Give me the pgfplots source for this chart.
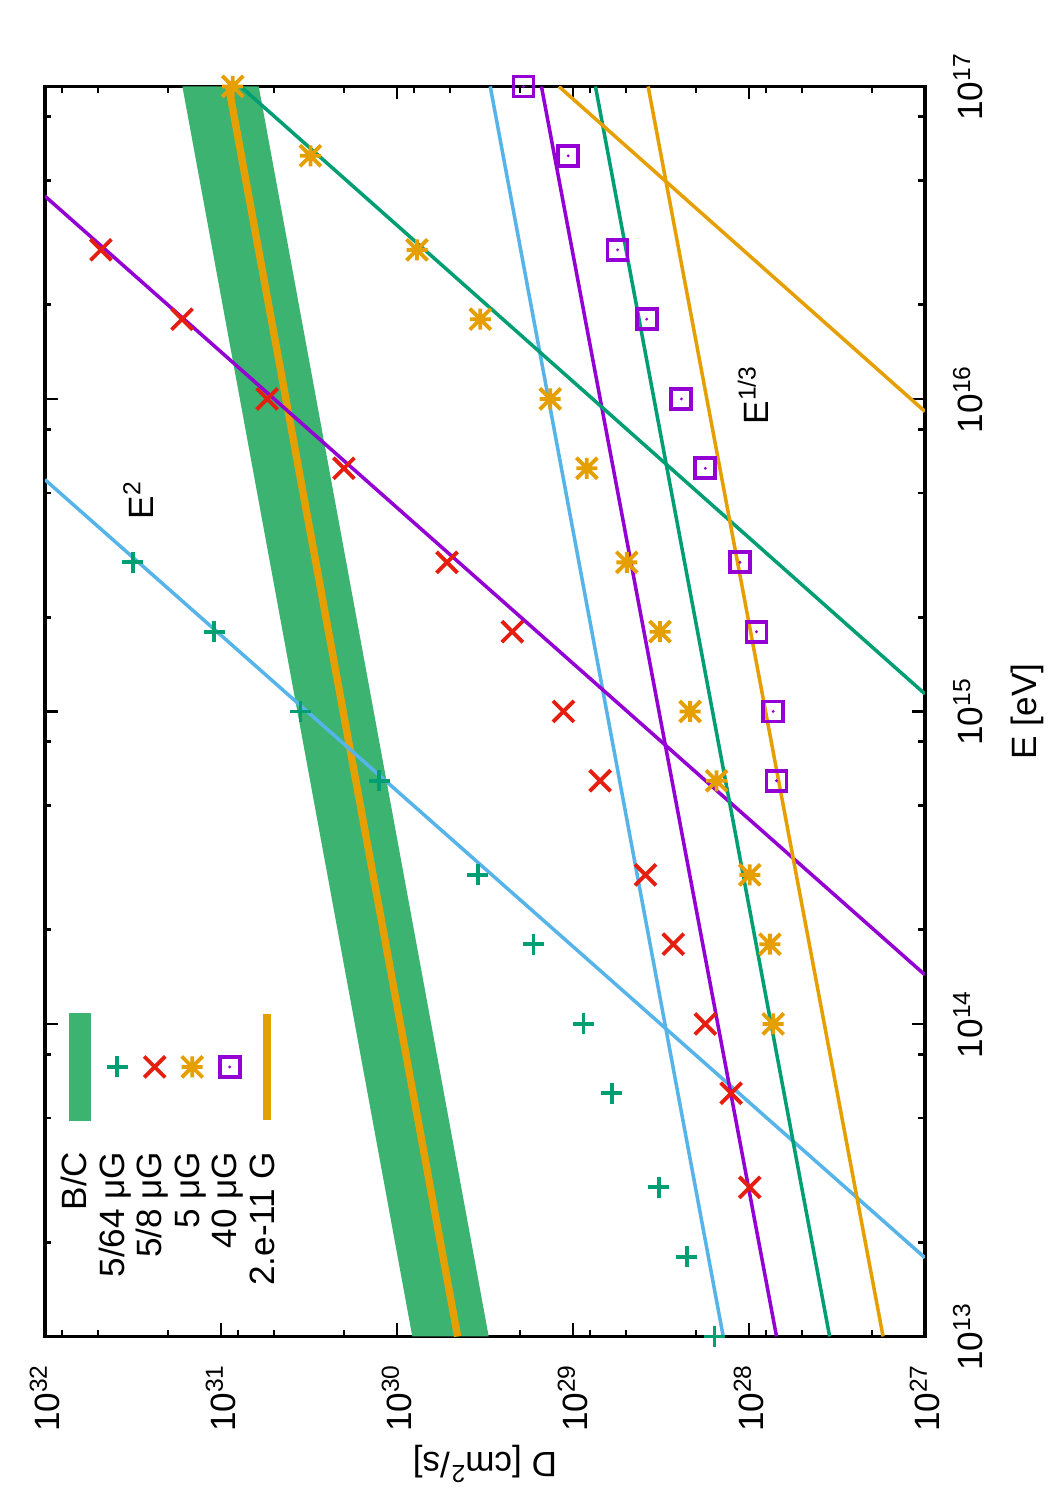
\documentclass[border=0pt]{standalone}
\usepackage{fontspec}
\setmainfont{Liberation Sans}
\usepackage{pgfplots}
\pgfplotsset{compat=1.18}

\definecolor{bandgreen}{HTML}{3CB371}
\definecolor{gpgreen}{HTML}{009E73}
\definecolor{gpred}{HTML}{E51E10}
\definecolor{gporange}{HTML}{E69F00}
\definecolor{gppurple}{HTML}{9400D3}
\definecolor{gpblue}{HTML}{56B4E9}

% gnuplot-like point types
\pgfdeclareplotmark{gpplus}{%
  \pgfpathmoveto{\pgfqpoint{-\pgfplotmarksize}{0pt}}\pgfpathlineto{\pgfqpoint{\pgfplotmarksize}{0pt}}%
  \pgfpathmoveto{\pgfqpoint{0pt}{-\pgfplotmarksize}}\pgfpathlineto{\pgfqpoint{0pt}{\pgfplotmarksize}}%
  \pgfusepathqstroke}
\pgfdeclareplotmark{gpcross}{%
  \pgfpathmoveto{\pgfqpoint{-\pgfplotmarksize}{-\pgfplotmarksize}}\pgfpathlineto{\pgfqpoint{\pgfplotmarksize}{\pgfplotmarksize}}%
  \pgfpathmoveto{\pgfqpoint{-\pgfplotmarksize}{\pgfplotmarksize}}\pgfpathlineto{\pgfqpoint{\pgfplotmarksize}{-\pgfplotmarksize}}%
  \pgfusepathqstroke}
\pgfdeclareplotmark{gpstar}{%
  \pgfpathmoveto{\pgfqpoint{-\pgfplotmarksize}{0pt}}\pgfpathlineto{\pgfqpoint{\pgfplotmarksize}{0pt}}%
  \pgfpathmoveto{\pgfqpoint{0pt}{-\pgfplotmarksize}}\pgfpathlineto{\pgfqpoint{0pt}{\pgfplotmarksize}}%
  \pgfpathmoveto{\pgfqpoint{-\pgfplotmarksize}{-\pgfplotmarksize}}\pgfpathlineto{\pgfqpoint{\pgfplotmarksize}{\pgfplotmarksize}}%
  \pgfpathmoveto{\pgfqpoint{-\pgfplotmarksize}{\pgfplotmarksize}}\pgfpathlineto{\pgfqpoint{\pgfplotmarksize}{-\pgfplotmarksize}}%
  \pgfusepathqstroke}
\pgfdeclareplotmark{gpbox}{%
  \pgfpathrectangle{\pgfqpoint{-\pgfplotmarksize}{-\pgfplotmarksize}}{\pgfqpoint{2\pgfplotmarksize}{2\pgfplotmarksize}}%
  \pgfusepathqstroke
  \pgfpathcircle{\pgfpointorigin}{0.45pt}\pgfusepathqfill}

\pgfplotsset{
  ptplus/.style={only marks, mark=gpplus, mark size=1.05mm, color=gpgreen, mark options={line width=1.1pt}},
  ptcross/.style={only marks, mark=gpcross, mark size=1.05mm, color=gpred, mark options={line width=1.1pt}},
  ptstar/.style={only marks, mark=gpstar, mark size=1.05mm, color=gporange, mark options={line width=1.1pt}},
  ptbox/.style={only marks, mark=gpbox, mark size=1.0mm, color=gppurple, mark options={line width=1.1pt, fill=gppurple}},
  fitline/.style={no markers, line width=1.0pt, forget plot},
  markimage/.style={legend image code/.code={\path (0mm,0mm) (10.6mm,0mm); \draw[##1] plot coordinates {(5.3mm,0mm)};}},
}

\begin{document}
\begin{tikzpicture}[font=\fontsize{10}{12}\selectfont]
\begin{scope}[transform canvas={rotate=90}]
\begin{axis}[
  at={(0,0)}, anchor=south west,
  scale only axis, width=125mm, height=88mm,
  xmode=log, ymode=log,
  xmin=1e13, xmax=1e17, ymin=1e27, ymax=1e32,
  clip mode=individual,
  axis line style={line width=1.1pt},
  tick align=inside, tick pos=both,
  xticklabel pos=lower, yticklabel pos=left,
  major tick length=1.3mm, minor tick length=0.65mm,
  major tick style={black, line width=0.8pt},
  minor tick style={black, line width=0.8pt},
  xtick={1e13,1e14,1e15,1e16,1e17},
  xticklabels={10\textsuperscript{13},10\textsuperscript{14},10\textsuperscript{15},10\textsuperscript{16},10\textsuperscript{17}},
  minor xtick={2e13,5e13,8e13,2e14,5e14,8e14,2e15,5e15,8e15,2e16,5e16,8e16},
  ytick={1e27,1e28,1e29,1e30,1e31,1e32},
  yticklabels={10\textsuperscript{27},10\textsuperscript{28},10\textsuperscript{29},10\textsuperscript{30},10\textsuperscript{31},10\textsuperscript{32}},
  minor ytick={2e27,5e27,8e27,2e28,5e28,8e28,2e29,5e29,8e29,2e30,5e30,8e30,2e31,5e31,8e31},
  xticklabel style={anchor=base, inner sep=0pt, yshift=-5.8mm},
  yticklabel style={anchor=east, inner sep=0pt, xshift=-2.65mm},
  xlabel={E [eV]},
  ylabel={D [cm\textsuperscript{2}/s]},
  xlabel style={at={(axis description cs:0.5,-0.1273)}, anchor=base, inner sep=0pt},
  ylabel style={at={(axis description cs:-0.0932,0.5)}, anchor=base, inner sep=0pt},
  legend cell align=right,
  legend plot pos=right,
  legend style={draw=none, fill=none, inner sep=0pt, outer sep=0pt,
    at={(axis description cs:0.2612,0.9818)}, anchor=north east,
    row sep=0pt, column sep=2.77mm,
    nodes={inner sep=0pt, text height=2.6mm, text depth=1.15mm}},
]

% B/C band
\addplot[fill=bandgreen, draw=none, forget plot] coordinates {
  (1e13, 3.01e29) (1e17, 6.10e30) (1e17, 1.656e31) (1e13, 8.18e29)
} -- cycle;

% 2.e-11 G
\addplot[gporange, line width=2.1pt, no markers, forget plot] coordinates {
  (1e13, 4.52e29) (1e17, 9.04e30)
};

% E^2 and E^{1/3} lines
\addplot[fitline, gpblue]   coordinates {(1.786e13, 1e27) (5.52e15, 1e32)};
\addplot[fitline, gpblue]   coordinates {(1e13, 1.40e28) (1e17, 2.95e29)};
\addplot[fitline, gppurple] coordinates {(1.436e14, 1e27) (4.457e16, 1e32)};
\addplot[fitline, gppurple] coordinates {(1e13, 6.97e27) (1e17, 1.51e29)};
\addplot[fitline, gpgreen]  coordinates {(1.138e15, 1e27) (1e17, 7.73e30)};
\addplot[fitline, gpgreen]  coordinates {(1e13, 3.48e27) (1e17, 7.45e28)};
\addplot[fitline, gporange] coordinates {(9.12e15, 1e27) (1e17, 1.202e29)};
\addplot[fitline, gporange] coordinates {(1e13, 1.73e27) (1e17, 3.74e28)};

% 5/64 muG
\addplot[ptplus, forget plot] coordinates {
  (1e13, 1.57e28) (1.8e13, 2.26e28) (3e13, 3.26e28) (6e13, 6.00e28)
  (1e14, 8.71e28) (1.8e14, 1.675e29) (3e14, 3.48e29) (6e14, 1.262e30)
  (1e15, 3.53e30) (1.8e15, 1.094e31) (3e15, 3.17e31)
};
% 5/8 muG
\addplot[ptcross, forget plot] coordinates {
  (3e13, 9.89e27) (6e13, 1.262e28) (1e14, 1.770e28) (1.8e14, 2.69e28)
  (3e14, 3.87e28) (6e14, 7.01e28) (1e15, 1.132e29) (1.8e15, 2.21e29)
  (3e15, 5.20e29) (6e15, 2.00e30) (1e16, 5.46e30) (1.8e16, 1.663e31)
  (3e16, 4.81e31)
};
% 5 muG
\addplot[ptstar, forget plot] coordinates {
  (1e14, 7.28e27) (1.8e14, 7.60e27) (3e14, 9.89e27) (6e14, 1.528e28)
  (1e15, 2.16e28) (1.8e15, 3.20e28) (3e15, 4.94e28) (6e15, 8.34e28)
  (1e16, 1.346e29) (1.8e16, 3.36e29) (3e16, 7.69e29) (6e16, 3.10e30)
  (1e17, 8.57e30)
};
% 40 muG
\addplot[ptbox, forget plot] coordinates {
  (6e14, 6.97e27) (1e15, 7.28e27) (1.8e15, 9.06e27) (3e15, 1.125e28)
  (6e15, 1.770e28) (1e16, 2.42e28) (1.8e16, 3.81e28) (3e16, 5.58e28)
  (6e16, 1.064e29) (1e17, 1.910e29)
};

\addlegendimage{legend image code/.code={\fill[bandgreen] (0mm,-1.05mm) rectangle (10.6mm,1.05mm);}}
\addlegendentry{B/C}
\addlegendimage{ptplus, markimage}
\addlegendentry{5/64 μG}
\addlegendimage{ptcross, markimage}
\addlegendentry{5/8 μG}
\addlegendimage{ptstar, markimage}
\addlegendentry{5 μG}
\addlegendimage{ptbox, markimage}
\addlegendentry{40 μG}
\addlegendimage{legend image code/.code={\draw[gporange, line width=0.8mm] (0mm,0mm) -- (10.6mm,0mm);}}
\addlegendentry{2.e-11 G}

\node[anchor=base west, inner sep=0pt] at (axis cs:4.10e15, 2.43e31) {E\textsuperscript{2}};
\node[anchor=base west, inner sep=0pt] at (axis cs:8.26e15, 7.76e27) {E\textsuperscript{1/3}};
\end{axis}
\end{scope}
\path[use as bounding box] (-92.5mm,-16.35mm) rectangle (12.5mm,133.65mm);
\end{tikzpicture}
\end{document}
